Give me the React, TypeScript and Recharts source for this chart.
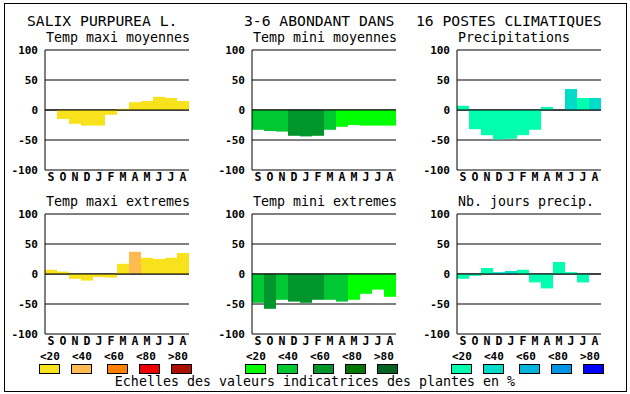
import React from "react"
import { BarChart, Bar, Cell, XAxis, YAxis, CartesianGrid, ReferenceLine } from "recharts"

const months = ["S", "O", "N", "D", "J", "F", "M", "A", "M", "J", "J", "A"]
const yTicks = [-100, -50, 0, 50, 100]
const scaleLabels = ["<20", "<40", "<60", "<80", ">80"]

// values per month and colour class (index in the palette)
const maxiMoyennes = [0, -15, -23, -26, -26, -8, 2, 13, 15, 22, 20, 15]
const maxiMoyLevels = [0, 0, 0, 0, 0, 0, 0, 0, 0, 0, 0, 0]
const miniMoyennes = [-33, -35, -36, -43, -44, -43, -33, -28, -25, -26, -26, -26]
const miniMoyLevels = [1, 1, 1, 2, 2, 2, 1, 0, 0, 0, 0, 0]
const precipitations = [7, -32, -42, -49, -48, -42, -33, 5, 0, 35, 20, 20]
const precipLevels = [0, 0, 0, 0, 0, 0, 0, 0, 0, 1, 0, 1]
const maxiExtremes = [7, 4, -8, -11, -5, -6, 17, 37, 27, 25, 27, 35]
const maxiExtLevels = [0, 0, 0, 0, 0, 0, 0, 1, 0, 0, 0, 0]
const miniExtremes = [-48, -58, -43, -46, -48, -43, -43, -46, -43, -33, -26, -38]
const miniExtLevels = [1, 2, 1, 2, 2, 2, 1, 1, 0, 0, 0, 0]
const nbJours = [-8, -3, 10, 3, 5, 7, -14, -24, 20, 3, -14, 0]
const nbJoursLevels = [0, 0, 0, 1, 1, 0, 0, 0, 0, 0, 0, 0]

const warm = ["#F8E21C", "#FFBB4F", "#FF8000", "#EE0000", "#AA1100"]
const green = ["#00FF00", "#00C832", "#00962C", "#007800", "#006420"]
const blue = ["#00FFAF", "#00DCC8", "#00B4DC", "#0096E6", "#0000FF"]

const mono = "'DejaVu Sans Mono', monospace"
const tickFont = { fill: "#000", fontSize: 11, fontWeight: "bold", fontFamily: mono }
const monthFont = { fill: "#000", fontSize: 11.5, fontWeight: "bold", fontFamily: mono }

function Panel({ title, values, levels, palette, left, top }: any) {
  const rows = values.map((v: number, i: number) => ({ i, v, c: palette[levels[i]] }))
  return (
    <div style={{ position: "absolute", left: left - 45, top: top - 30 }}>
      <div style={{ position: "absolute", left: 46, top: 11, fontFamily: mono, fontSize: 13.3, lineHeight: "14px", whiteSpace: "nowrap" }}>
        {title}
      </div>
      <BarChart width={190} height={166} data={rows} margin={{ top: 30, right: 1, bottom: 0, left: 0 }} barCategoryGap={0} barGap={0}>
        <CartesianGrid vertical={false} stroke="#000" />
        <XAxis dataKey="i" tickFormatter={(i) => months[i]} interval={0} axisLine={false} tickLine={false} tickSize={0} tickMargin={3} height={16} tick={monthFont} />
        <YAxis domain={[-100, 100]} ticks={yTicks} width={45} axisLine={{ stroke: "#000" }} tickLine={false} tickSize={0} tickMargin={7} tick={tickFont} />
        <YAxis yAxisId="r" orientation="right" width={0} domain={[-100, 100]} tick={false} tickLine={false} axisLine={{ stroke: "#000" }} />
        <Bar dataKey="v" isAnimationActive={false}>
          {rows.map((r: any, idx: number) => (
            <Cell key={`c-${idx}`} fill={r.c} />
          ))}
        </Bar>
        <ReferenceLine y={0} stroke="#000" />
      </BarChart>
    </div>
  )
}

function Scale({ palette, left }: any) {
  const boxOffsets = [0, 32, 68, 100, 132]
  return (
    <>
      {scaleLabels.map((s, i) => (
        <div key={`l-${i}`} style={{ position: "absolute", left: left + 1 + i * 32, top: 351, fontFamily: mono, fontSize: 11, fontWeight: "bold", lineHeight: "11px" }}>
          {s}
        </div>
      ))}
      {palette.map((c: string, i: number) => (
        <div key={`b-${i}`} style={{ position: "absolute", left: left + boxOffsets[i], top: 364, width: 19, height: 8, background: c, border: "1px solid #000" }} />
      ))}
    </>
  )
}

export default function App() {
  return (
    <div style={{ position: "absolute", left: 0, top: 0, width: 630, height: 394, background: "#fff", overflow: "hidden" }}>
      <div style={{ position: "absolute", left: 4, top: 3, width: 621, height: 387, border: "1px solid #000" }} />
      <div style={{ position: "absolute", top: 13, left: 27, fontFamily: mono, fontSize: 14.7, lineHeight: "16px", whiteSpace: "pre" }}>
        SALIX PURPUREA L.
      </div>
      <div style={{ position: "absolute", top: 13, left: 244, fontFamily: mono, fontSize: 14.7, lineHeight: "16px", whiteSpace: "pre" }}>
        3-6 ABONDANT DANS
      </div>
      <div style={{ position: "absolute", top: 13, left: 416, fontFamily: mono, fontSize: 14.7, lineHeight: "16px", whiteSpace: "pre" }}>
        16 POSTES CLIMATIQUES
      </div>

      <Panel title="Temp maxi moyennes" values={maxiMoyennes} levels={maxiMoyLevels} palette={warm} left={45} top={50} />
      <Panel title="Temp mini moyennes" values={miniMoyennes} levels={miniMoyLevels} palette={green} left={252} top={50} />
      <Panel title="Precipitations" values={precipitations} levels={precipLevels} palette={blue} left={457} top={50} />
      <Panel title="Temp maxi extremes" values={maxiExtremes} levels={maxiExtLevels} palette={warm} left={45} top={214} />
      <Panel title="Temp mini extremes" values={miniExtremes} levels={miniExtLevels} palette={green} left={252} top={214} />
      <Panel title="Nb. jours precip." values={nbJours} levels={nbJoursLevels} palette={blue} left={457} top={214} />

      <Scale palette={warm} left={39} />
      <Scale palette={green} left={245} />
      <Scale palette={blue} left={451} />

      <div style={{ position: "absolute", left: 0, width: 630, top: 375, textAlign: "center", fontFamily: mono, fontSize: 13.3, lineHeight: "14px" }}>
        Echelles des valeurs indicatrices des plantes en %
      </div>
    </div>
  )
}
